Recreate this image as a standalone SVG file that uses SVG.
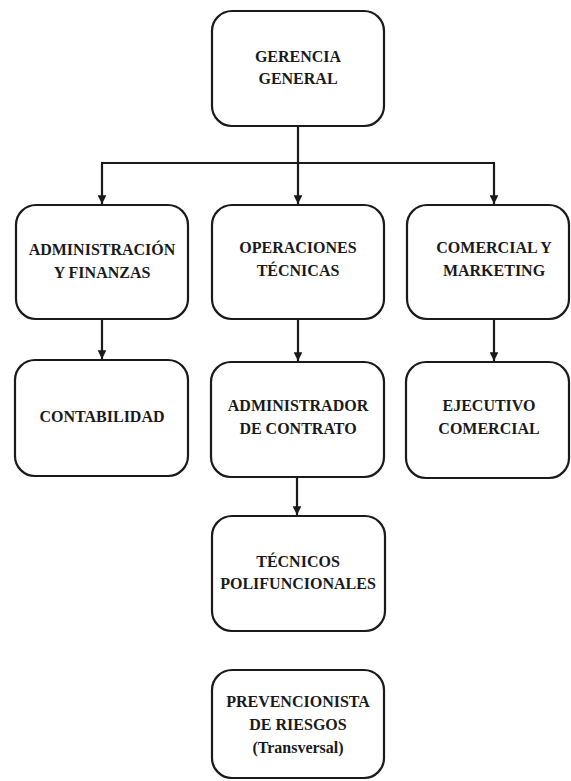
<svg xmlns="http://www.w3.org/2000/svg" width="571" height="781" viewBox="0 0 571 781">
<style>
.box{fill:#fff;stroke:#1a1a1a;stroke-width:2.2}
.t{font-family:"Liberation Serif","Times New Roman",serif;font-weight:bold;font-size:16px;fill:#1a1a1a;text-anchor:middle}
.c{fill:none;stroke:#1a1a1a;stroke-width:2.2}
</style>
<defs>
<marker id="ah" viewBox="0 0 10 10" refX="10" refY="5" markerWidth="4" markerHeight="4" markerUnits="strokeWidth" orient="auto">
<path d="M0,0 L10,5 L0,10 Z" fill="#1a1a1a"/>
</marker>
</defs>
<rect width="571" height="781" fill="#fff"/>
<g id="connectors">
<path class="c" d="M298,126 V163"/>
<path class="c" d="M101,163 H495"/>
<path class="c" d="M102,163 V204" marker-end="url(#ah)"/>
<path class="c" d="M298,163 V204" marker-end="url(#ah)"/>
<path class="c" d="M494,163 V204" marker-end="url(#ah)"/>
<path class="c" d="M102,319 V359" marker-end="url(#ah)"/>
<path class="c" d="M298,319 V361" marker-end="url(#ah)"/>
<path class="c" d="M494,319 V361" marker-end="url(#ah)"/>
<path class="c" d="M297,477 V515" marker-end="url(#ah)"/>
</g>
<g id="gerencia">
<rect class="box" x="212" y="11" width="172" height="115" rx="20"/>
<text class="t" x="298" y="62">GERENCIA</text>
<text class="t" x="298" y="84">GENERAL</text>
</g>
<g id="administracion">
<rect class="box" x="16" y="205" width="172" height="114" rx="20"/>
<text class="t" x="102" y="255">ADMINISTRACIÓN</text>
<text class="t" x="102" y="278">Y FINANZAS</text>
</g>
<g id="operaciones">
<rect class="box" x="212" y="205" width="172" height="114" rx="20"/>
<text class="t" x="298" y="253">OPERACIONES</text>
<text class="t" x="298" y="276">TÉCNICAS</text>
</g>
<g id="comercial">
<rect class="box" x="407" y="205" width="162" height="114" rx="20"/>
<text class="t" x="494" y="253">COMERCIAL Y</text>
<text class="t" x="494" y="276">MARKETING</text>
</g>
<g id="contabilidad">
<rect class="box" x="15" y="360" width="173" height="116" rx="20"/>
<text class="t" x="102" y="422">CONTABILIDAD</text>
</g>
<g id="administrador">
<rect class="box" x="211" y="362" width="173" height="115" rx="20"/>
<text class="t" x="298" y="411">ADMINISTRADOR</text>
<text class="t" x="298" y="434">DE CONTRATO</text>
</g>
<g id="ejecutivo">
<rect class="box" x="406" y="362" width="163" height="116" rx="20"/>
<text class="t" x="489" y="411">EJECUTIVO</text>
<text class="t" x="489" y="434">COMERCIAL</text>
</g>
<g id="tecnicos">
<rect class="box" x="212" y="516" width="173" height="115" rx="20"/>
<text class="t" x="298" y="567">TÉCNICOS</text>
<text class="t" x="298" y="589">POLIFUNCIONALES</text>
</g>
<g id="prevencionista">
<rect class="box" x="212" y="670" width="172" height="108" rx="20"/>
<text class="t" x="298" y="707">PREVENCIONISTA</text>
<text class="t" x="298" y="730">DE RIESGOS</text>
<text class="t" x="298" y="753">(Transversal)</text>
</g>
</svg>
